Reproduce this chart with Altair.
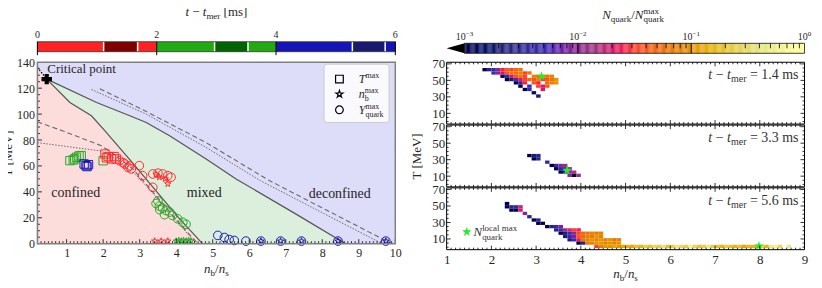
import altair as alt
import numpy as np
import pandas as pd

FONT = "Liberation Serif"
INK = "#262626"

# ---------------- left colour bar: t - t_mer [ms]
SEG_START = [0.0, 1.11, 1.68, 2.0, 2.97, 3.53, 4.0, 5.28, 5.83]
SEG_END = [1.11, 1.68, 2.0, 2.97, 3.53, 4.0, 5.28, 5.83, 6.0]
SEG_COLOR = ["#ff2222", "#800000", "#ff2222", "#22aa11", "#006400", "#22aa11",
             "#1414b8", "#191970", "#1414b8"]
SNAP_TIMES = [1.11, 1.68, 2.97, 3.53, 5.28, 5.83]
TIME_TICKS = [0, 2, 4, 6]

# ---------------- phase diagram boundaries (n_b/n_s, T [MeV])
CRIT_N, CRIT_T = 0.455, 127
CROSS_N = [0.2, 0.455]
CROSS_T = [136, 127]
UPPER_N = [0.455, 1.82, 2.73, 3.18, 3.82, 4.82, 5.64, 7.27, 8.64]
UPPER_T = [127, 109, 98.7, 93.5, 83.3, 65.4, 50, 23, 0]
LOWER_N = [0.455, 1.09, 1.68, 2.05, 2.8, 3.5, 4.1, 4.72]
LOWER_T = [127, 109, 98.7, 87, 62.5, 39, 19, 0]
UP_DASH_N = [1.91, 3.18, 4.82, 6.55, 9.9]
UP_DASH_T = [119.5, 102, 78, 48.7, 0]
UP_DOT_N = [1.68, 3.18, 4.82, 6.3, 9.64]
UP_DOT_T = [119, 100, 74.3, 48.7, 0]
LO_DASH_N = [0.2, 0.9, 1.95, 2.3, 2.8, 3.36, 3.9, 4.3, 4.6]
LO_DASH_T = [94, 87, 75.6, 69, 58, 40, 22, 9, 0]
LO_DOT_N = [0.2, 1.0, 1.95, 2.3, 2.9, 3.36, 3.9, 4.3, 4.56]
LO_DOT_T = [78, 75, 71.5, 66, 53, 39, 21, 8, 0]

# ---------------- markers (colour code: r = 0-2 ms, g = 2-4 ms, b = 4-6 ms)
SQ_N = [1.09, 1.18, 1.27, 1.34, 1.40, 1.22, 2.0, 1.48, 1.53, 1.56, 1.60,
        2.05, 2.09, 2.14, 2.23, 2.30, 2.36]
SQ_T = [64.1, 64.6, 66.7, 67.7, 68, 65.5, 64, 61.5, 60.2, 59.5, 61,
        69.2, 66.2, 67.2, 65.4, 67.2, 65.4]
SQ_C = ["g"] * 7 + ["b"] * 4 + ["r"] * 6
CI_N = [2.45, 2.55, 2.59, 2.68, 2.72, 2.77, 2.99, 3.08, 3.36, 3.36, 3.5, 3.63, 3.77, 3.86,
        3.45, 3.5, 3.54, 3.55, 3.63, 3.68, 3.72, 3.82, 3.90, 4.04, 4.18, 4.27,
        5.14, 5.32, 5.45, 5.59, 5.91, 6.32, 6.86, 7.43, 8.43, 9.74]
CI_T = [64, 62.5, 61.5, 58.9, 60, 57.7, 60.2, 52.5, 43.5, 53.8, 54.4, 53.8, 52.5, 51.3,
        31, 33, 29, 26.3, 27.5, 22.4, 25.6, 24.4, 21.8, 19.2, 16.5, 15,
        6.4, 4.8, 3.2, 2.5, 2, 2, 2, 2, 2, 2]
CI_C = ["r"] * 14 + ["g"] * 12 + ["b"] * 10
ST_N = [3.77, 3.54, 3.45, 3.7, 3.41, 3.59, 3.77, 4.0, 4.07, 4.14, 4.2, 4.27, 4.34, 4.4,
        6.32, 6.86, 7.43, 8.43, 9.74]
ST_T = [46.2, 51.3, 53.5, 50, 2, 2, 2, 2, 2.5, 2, 2.5, 2, 2.5, 2, 2, 2, 2, 2, 2]
ST_C = ["r"] * 7 + ["g"] * 7 + ["b"] * 5
MCOL = {"r": "#ff2a2a", "g": "#22aa22", "b": "#1a1ab4"}

# ---------------- quark fraction maps: rows of cells (T centre, first n, log10 values)
P1_T = [63, 59, 55, 51, 47, 43, 39, 35, 31]
P1_N0 = [1.8, 2.0, 2.2, 2.3, 2.5, 2.6, 2.7, 2.9, 3.0]
P1_V = [[-3.0, -2.6, -2.4, -2.0, -1.6, -1.4, -1.5, -1.3, -1.2],
        [-2.3, -2.0, -1.7, -1.4, -1.2, -1.3, -1.1, -1.5, -1.2],
        [-3.0, -2.4, -1.7, -1.4, -1.2, -1.5, None, -1.1, -1.3, -1.0, -1.2, -1.1],
        [-3.0, -2.7, -2.2, -1.7, -1.5, -1.3, -1.4, -1.1, -1.5, -1.4, -1.2, -1.0],
        [-3.0, -2.5, -1.6, None, -1.4, -1.6, None, -1.3, -1.1, -1.0],
        [-3.0, None, -2.3, None, -1.5, -1.7, -1.4],
        [-3.0, -2.3, None, None, -1.7], [-2.8], [-2.7]]
P2_T = [35, 31, 27, 23, 19, 15, 11]
P2_N0 = [2.8, 2.9, 3.2, 3.3, 3.4, 3.5, 3.7]
P2_V = [[-3.0, -2.7, -2.6], [-3.0, -2.6], [-2.4], [-3.0, -2.4, -2.0, -1.9],
        [-3.0, -2.5, -2.3, -1.9], [-3.0, -2.5, -2.0, -1.8], [-2.0, -3.0, -1.9]]
P3_T = [53, 49, 45, 41, 37, 33, 29, 25, 21, 17, 13, 9, 5, 1]
P3_N0 = [2.3, 2.3, 2.4, 2.7, 2.8, 2.9, 3.0, 3.2, 3.4, 3.5, 3.6, 3.7, 3.9, 4.3]
P3_V = [[-3.0], [-3.0, -2.5, -2.4, -1.8], [-3.0, -3.0, -1.7], [-2.0], [-2.5], [-3.0, -2.5],
        [-3.0, -3.0], [-3.0, -2.6, -2.4, -2.1], [-2.6, -2.3, -1.9, -1.6, -1.5, -1.6],
        [-3.0, -2.7, -2.3, -2.0, -1.5, -1.3, -1.2, -1.1, -1.2, -1.1],
        [-2.7, -2.4, -2.1, -1.4, -1.3, -1.1, -1.2, -1.0, -1.1],
        [-2.7, -2.3, -1.6, -1.2, -1.1, -1.0, -1.1, -1.0, -1.1, -1.0, -1.2, -1.1],
        [-3.0, -2.6, -1.2, -1.1, -1.0, -1.0, -1.1, -1.0, -1.1, -1.0],
        [-1.5, -1.1, -1.0, -1.0, -0.9, -1.0, -0.9, -0.8, -0.9, -0.7, -0.8, -0.6, -0.7, -0.5,
         -0.6, -0.4, -0.7, -0.6, -0.3, -0.5, -0.6, -0.2, -0.5, -0.7, -0.6, -0.3, -0.6, -0.7,
         -0.8, -0.6, -0.7, -0.8, -0.7, -0.9, -0.8, -0.8, -0.9, -0.6, -0.8, -0.3, -0.2, -0.5,
         None, -0.3, None]]
STAR_N = [3.12, 3.69, 7.98]
STAR_T = [55, 17, 1.5]
PANEL_TIME = ["1.4", "3.3", "5.6"]

CMR = ["#000000", "#262680", "#4026bf", "#993380", "#ff4026", "#e68000",
       "#e6bf1a", "#e6e680", "#ffffff"]
CMR_DOM = [-3.0, -2.625, -2.25, -1.875, -1.5, -1.125, -0.75, -0.375, 0.0]
cmr_scale = alt.Scale(domain=CMR_DOM, range=CMR, clamp=True)

STAR = ("M 0 -1 L 0.2245 -0.309 L 0.9511 -0.309 L 0.3633 0.118 L 0.5878 0.809 "
        "L 0 0.382 L -0.5878 0.809 L -0.3633 0.118 L -0.9511 -0.309 L -0.2245 -0.309 Z")
TRI_LEFT = "M -1 0 L 1 -0.56 L 1 0.56 Z"

# ---------------- text helpers (Times-compatible metrics)
RM = {" ": 250, "[": 333, "]": 333, "/": 278, ".": 250, "=": 564, "−": 564,
      "a": 444, "b": 500, "c": 444, "d": 500, "e": 444, "f": 333, "i": 278, "k": 500,
      "l": 278, "m": 778, "n": 500, "o": 500, "p": 500, "q": 500, "r": 333, "s": 389,
      "t": 278, "u": 500, "x": 500, "M": 889, "V": 722, "C": 667}
IT = {" ": 250, "a": 500, "c": 444, "e": 444, "i": 278, "k": 444, "l": 278,
      "m": 722, "n": 500, "o": 500, "r": 389, "s": 389, "t": 278, "N": 667,
      "T": 556, "Y": 556}


def tw(s, size, italic):
    tab = IT if italic else RM
    return sum(tab.get(c, 500) for c in s) * size / 1000.0


W, HL, HR, GAP = 359, 182, 62, 1
HRT = 3 * HR + 2 * GAP
xsL = alt.Scale(domain=[0.2, 10], nice=False, zero=False)
ysL = alt.Scale(domain=[0, 140], nice=False, zero=False)
xaxL = alt.Axis(values=list(range(1, 11)), ticks=False, domain=False, grid=False,
                labelFont=FONT, labelFontSize=12, labelColor=INK, labelPadding=4,
                labelFlush=False, labelOverlap=False, title=None)
yaxL = alt.Axis(values=list(range(0, 141, 20)), ticks=False, domain=False, grid=False,
                labelFont=FONT, labelFontSize=12, labelColor=INK, labelPadding=3,
                labelOverlap=False, title="T [MeV]", titleFont=FONT, titleFontSize=13,
                titleFontWeight="normal", titleColor=INK, titlePadding=2)
UNIT = 75.0 / HR
OFF = [2 * (75 + GAP * UNIT), 75 + GAP * UNIT, 0.0]
xsR = alt.Scale(domain=[1, 9], nice=False, zero=False)
ysR = alt.Scale(domain=[-3, 72 + OFF[0]], nice=False, zero=False)
yvals = [v + OFF[k] for k in range(3) for v in (10, 30, 50, 70)]
lab_expr = ("datum.value > {a} ? format(datum.value - {o1}, '.0f') : "
            "datum.value > {b} ? format(datum.value - {o2}, '.0f') : format(datum.value, '.0f')"
            ).format(a=OFF[0] - 5, o1=OFF[0], b=OFF[1] - 5, o2=OFF[1])
xaxR = alt.Axis(values=list(range(1, 10)), ticks=False, domain=False, grid=False,
                labelFont=FONT, labelFontSize=13, labelColor=INK, labelPadding=4,
                labelFlush=False, labelOverlap=False, title=None)
yaxR = alt.Axis(values=yvals, labelExpr=lab_expr, ticks=False, domain=False, grid=False,
                labelFont=FONT, labelFontSize=13, labelColor=INK, labelPadding=2,
                labelOverlap=False, title="T [MeV]", titleFont=FONT, titleFontSize=13,
                titleFontWeight="normal", titleColor=INK, titlePadding=8)
AX = {"L": (xsL, ysL, xaxL, yaxL), "R": (xsR, ysR, xaxR, yaxR)}


def XE(side, f):
    return alt.X(f + ":Q", scale=AX[side][0], axis=AX[side][2])


def YE(side, f):
    return alt.Y(f + ":Q", scale=AX[side][1], axis=AX[side][3])


def rich(pieces, x, y, side=None, align="left", dy0=0.0, color=INK):
    isx = isinstance(x, (int, float))
    isy = isinstance(y, (int, float))
    df = pd.DataFrame({"px": [x if isx else 0], "py": [y if isy else 0]})
    X = XE(side, "px") if isx else x
    Y = YE(side, "py") if isy else y
    offs, cur = [], 0.0
    for text, size, it, dy, adv in pieces:
        offs.append(cur)
        if adv:
            cur += tw(text, size, it)
    shift = {"left": 0.0, "center": -cur / 2, "right": -cur}[align]
    out = []
    for (text, size, it, dy, adv), o in zip(pieces, offs):
        lead = len(text) - len(text.lstrip())
        out.append(alt.Chart(df).mark_text(
            text=text.strip(), font=FONT, fontSize=size,
            fontStyle="italic" if it else "normal", align="left", baseline="alphabetic",
            dx=o + tw(" " * lead, size, it) + shift, dy=dy + dy0, color=color).encode(x=X, y=Y))
    return out


def rule_x(side, vals, y0, y1):
    return alt.Chart(pd.DataFrame({"v": vals})).mark_rule(color="black", strokeWidth=0.8).encode(
        x=XE(side, "v"), y=alt.value(y0), y2=alt.value(y1))


def rule_y(side, vals, x0, x1):
    return alt.Chart(pd.DataFrame({"v": vals})).mark_rule(color="black", strokeWidth=0.8).encode(
        y=YE(side, "v"), x=alt.value(x0), x2=alt.value(x1))


def box(x0, x1, y0, y1, **kw):
    return alt.Chart(pd.DataFrame({"k": [0]})).mark_rect(**kw).encode(
        x=alt.value(x0), x2=alt.value(x1), y=alt.value(y0), y2=alt.value(y1))


def ln(nn, tt, **kw):
    return alt.Chart(pd.DataFrame({"n": nn, "T": tt})).mark_line(**kw).encode(
        x=XE("L", "n"), y=YE("L", "T"))


def markers(nn, tt, cc, shape, size):
    df = pd.DataFrame({"n": nn, "T": tt, "c": [MCOL[c] for c in cc]})
    return alt.Chart(df).mark_point(shape=shape, filled=False, size=size, strokeWidth=1,
                                    opacity=1).encode(
        x=XE("L", "n"), y=YE("L", "T"), color=alt.Color("c:N", scale=None))


# ======================================================= LEFT: phase diagram
up_area = pd.DataFrame({"n": CROSS_N[:1] + UPPER_N, "T": CROSS_T[:1] + UPPER_T})
lo_area = pd.DataFrame({"n": CROSS_N[:1] + LOWER_N, "T": CROSS_T[:1] + LOWER_T})
L = [box(0, W, 0, HL, fill="#dddcf9"),
     alt.Chart(up_area).mark_area(color="#dcefdc").encode(
         x=XE("L", "n"), y=YE("L", "T"), y2=alt.value(HL)),
     alt.Chart(lo_area).mark_area(color="#fddcdc").encode(
         x=XE("L", "n"), y=YE("L", "T"), y2=alt.value(HL)),
     ln(UP_DASH_N, UP_DASH_T, color="#6a6a6a", strokeWidth=1.1, strokeDash=[5, 3]),
     ln(UP_DOT_N, UP_DOT_T, color="#6a6a6a", strokeWidth=1.0, strokeDash=[1.5, 1.5]),
     ln(LO_DASH_N, LO_DASH_T, color="#6a6a6a", strokeWidth=1.1, strokeDash=[5, 3]),
     ln(LO_DOT_N, LO_DOT_T, color="#6a6a6a", strokeWidth=1.0, strokeDash=[1.5, 1.5]),
     ln(UPPER_N, UPPER_T, color="#555555", strokeWidth=1.2),
     ln(LOWER_N, LOWER_T, color="#555555", strokeWidth=1.2),
     ln(CROSS_N, CROSS_T, color="black", strokeWidth=1.3, strokeDash=[1.5, 1.5]),
     markers(SQ_N, SQ_T, SQ_C, "square", 70),
     markers(CI_N, CI_T, CI_C, "circle", 75),
     markers(ST_N, ST_T, ST_C, STAR, 45),
     alt.Chart(pd.DataFrame({"n": [CRIT_N], "T": [CRIT_T]})).mark_point(
         shape="cross", filled=True, color="black", size=110, opacity=1).encode(
         x=XE("L", "n"), y=YE("L", "T")),
     alt.Chart(pd.DataFrame({"n": [8.05], "n2": [9.83], "T": [93.5], "T2": [138.5]})).mark_rect(
         fill="white", fillOpacity=0.85, stroke="#cccccc", strokeWidth=1, cornerRadius=3).encode(
         x=XE("L", "n"), x2="n2:Q", y=YE("L", "T"), y2="T2:Q")]
for shape, tv, sz in (("square", 127, 60), (STAR, 115.4, 55), ("circle", 103.3, 60)):
    L.append(alt.Chart(pd.DataFrame({"n": [8.47], "T": [tv]})).mark_point(
        shape=shape, filled=False, color="black", size=sz, strokeWidth=1.2, opacity=1).encode(
        x=XE("L", "n"), y=YE("L", "T")))
L += rich([("T", 12, True, 0, True), ("max", 8, False, -5, True)], 9.0, 127.0, "L", dy0=4)
L += rich([("n", 12, True, 0, True), ("b", 8, False, 3, False), ("max", 8, False, -5, True)],
          9.0, 115.4, "L", dy0=4)
L += rich([("Y", 12, True, 0, True), ("max", 8, False, -5, False), ("quark", 8, False, 3, True)],
          9.0, 103.3, "L", dy0=4)
L += rich([("Critical point", 13, False, 0, True)], 0.47, 131.7, "L")
L += rich([("confined", 14, False, 0, True)], 1.25, 39.5, "L", align="center", dy0=4.5)
L += rich([("mixed", 14, False, 0, True)], 4.77, 39.5, "L", align="center", dy0=4.5)
L += rich([("deconfined", 14, False, 0, True)], 8.48, 39.0, "L", align="center", dy0=4.5)
L += [rule_x("L", list(range(1, 11)), HL, HL - 4.5),
      rule_x("L", [round(v / 10, 1) for v in range(3, 100) if v % 10], HL, HL - 2.5),
      rule_y("L", list(range(20, 140, 20)), 0, 4.5),
      rule_y("L", [v for v in range(5, 140, 5) if v % 20], 0, 2.5)]
L.append(box(0, W, 0, HL, fillOpacity=0, stroke="#808080", strokeWidth=1.5))
L += rich([("n", 13, True, 0, True), ("b", 9, False, 3, True), ("/", 13, False, 0, True),
           ("n", 13, True, 0, True), ("s", 9, False, 3, True)],
          alt.value(W / 2), alt.value(HL + 29), align="center")
# colour bar for t - t_mer (time mapped onto the n axis range)
CT, CB = -20.6, -10.6
T2N = "0.2 + {} * 9.8 / 6"
segdf = pd.DataFrame({"a": SEG_START, "b": SEG_END, "c": SEG_COLOR})
L.append(alt.Chart(segdf).transform_calculate(
    na=T2N.format("datum.a"), nb=T2N.format("datum.b")).mark_rect().encode(
    x=XE("L", "na"), x2="nb:Q", y=alt.value(CT), y2=alt.value(CB),
    color=alt.Color("c:N", scale=None)))
L.append(alt.Chart(pd.DataFrame({"t": SNAP_TIMES})).transform_calculate(
    n=T2N.format("datum.t")).mark_rule(color="white", strokeWidth=1.5).encode(
    x=XE("L", "n"), y=alt.value(CT), y2=alt.value(CB)))
L.append(box(0, W, CT, CB, fillOpacity=0, stroke="#333333", strokeWidth=0.8))
L.append(alt.Chart(pd.DataFrame({"t": TIME_TICKS})).transform_calculate(
    n=T2N.format("datum.t")).mark_rule(color="black", strokeWidth=1).encode(
    x=XE("L", "n"), y=alt.value(CT), y2=alt.value(CB + 3.5)))
for t in TIME_TICKS:
    L += rich([(str(t), 10, False, 0, True)], 0.2 + t * 9.8 / 6, alt.value(CT - 4), "L",
              align="center")
L += rich([("t", 13, True, 0, True), (" − ", 13, False, 0, True),
           ("t", 13, True, 0, True), ("mer", 9, False, 3, True),
           (" [ms]", 13, False, 0, True)],
          alt.value(W / 2), alt.value(CT - 25.5), align="center")
left = alt.layer(*L).properties(width=W, height=HL)


# ======================================================= RIGHT: three stacked panels
def cells_df():
    recs = []
    for k, (rt, rn, rv) in enumerate([(P1_T, P1_N0, P1_V), (P2_T, P2_N0, P2_V), (P3_T, P3_N0, P3_V)]):
        for T, n0, vals in zip(rt, rn, rv):
            for j, v in enumerate(vals):
                if v is None:
                    continue
                a = round(n0 + 0.1 * j, 2)
                recs.append({"n": a, "n2": round(a + 0.1, 2),
                             "t": T - 2 + OFF[k], "t2": T + 2 + OFF[k], "v": v})
    return pd.DataFrame(recs)


R = []
for k in range(3):
    R.append(box(0, W, k * (HR + GAP), k * (HR + GAP) + HR, fill="white"))
R.append(alt.Chart(cells_df()).mark_rect().encode(
    x=XE("R", "n"), x2="n2:Q", y=YE("R", "t"), y2="t2:Q",
    color=alt.Color("v:Q", scale=cmr_scale, legend=None)))
R.append(alt.Chart(pd.DataFrame({"n": STAR_N + [1.45],
                                 "T": [STAR_T[k] + OFF[k] for k in range(3)] + [18.6]})).mark_point(
    shape=STAR, filled=True, color="#22ee22", size=100, opacity=1, strokeWidth=0).encode(
    x=XE("R", "n"), y=YE("R", "T")))
xmajR = list(range(2, 9))
xminR = [round(v / 10, 1) for v in range(11, 90) if v % 10]
for k in range(3):
    top = k * (HR + GAP)
    bot = top + HR
    R += [rule_x("R", xmajR, bot, bot - 4), rule_x("R", xminR, bot, bot - 2),
          rule_x("R", xmajR, top, top + 4), rule_x("R", xminR, top, top + 2)]
    ymaj = [v + OFF[k] for v in (10, 30, 50, 70)]
    ymin = [v + OFF[k] for v in (0, 5, 15, 20, 25, 35, 40, 45, 55, 60, 65)]
    R += [rule_y("R", ymaj, 0, 4), rule_y("R", ymin, 0, 2),
          rule_y("R", ymaj, W, W - 4), rule_y("R", ymin, W, W - 2)]
    R.append(box(0, W, top, bot, fillOpacity=0, stroke="black", strokeWidth=1))
    R += rich([("t", 14, True, 0, True), (" − ", 14, False, 0, True), ("t", 14, True, 0, True),
               ("mer", 10, False, 3, True), (" = " + PANEL_TIME[k] + " ", 14, False, 0, True),
               ("ms", 14, False, 0, True)],
              alt.value(W - 6), alt.value(top + 17), align="right", color="#333333")
R += rich([("N", 13, True, 0, True), ("quark", 9, False, 3.5, False),
           ("local max", 9, False, -5.5, True)],
          1.6, 18.6, "R", dy0=4.5, color="#333333")
R += rich([("n", 13, True, 0, True), ("b", 9, False, 3, True), ("/", 13, False, 0, True),
           ("n", 13, True, 0, True), ("s", 9, False, 3, True)],
          alt.value(W / 2), alt.value(HRT + 28), align="center")
# colour bar for N_quark / N_quark^max (log10 mapped onto the n axis range)
QT, QB = -19.0, -9.0
V2N = "1 + ({} + 3.158) * 8 / 3.158"
grad = pd.DataFrame({"v": [round(-3.0 + 0.01 * i, 3) for i in range(300)]})
R.append(alt.Chart(grad).transform_calculate(
    na=V2N.format("datum.v"), nb=V2N.format("(datum.v + 0.0102)")).mark_rect().encode(
    x=XE("R", "na"), x2="nb:Q", y=alt.value(QT), y2=alt.value(QB),
    color=alt.Color("v:Q", scale=cmr_scale, legend=None)))
R.append(alt.Chart(pd.DataFrame({"v": [-3.079]})).transform_calculate(
    n=V2N.format("datum.v")).mark_point(
    shape=TRI_LEFT, filled=True, color="black", size=324, opacity=1, strokeWidth=0).encode(
    x=XE("R", "n"), y=alt.value((QT + QB) / 2)))
R.append(alt.Chart(pd.DataFrame({"a": [-3.0], "b": [0.0]})).transform_calculate(
    na=V2N.format("datum.a"), nb=V2N.format("datum.b")).mark_rect(
    fillOpacity=0, stroke="#111111", strokeWidth=0.8).encode(
    x=XE("R", "na"), x2="nb:Q", y=alt.value(QT), y2=alt.value(QB)))
R.append(alt.Chart(pd.DataFrame({"v": [-2.0, -1.0]})).transform_calculate(
    n=V2N.format("datum.v")).mark_rule(color="black", strokeWidth=1).encode(
    x=XE("R", "n"), y=alt.value(QT), y2=alt.value(QB)))
minor_q = [float(np.log10(m)) + d for d in (-3, -2, -1) for m in range(2, 10)]
R.append(alt.Chart(pd.DataFrame({"v": minor_q})).transform_calculate(
    n=V2N.format("datum.v")).mark_rule(color="black", strokeWidth=0.8).encode(
    x=XE("R", "n"), y=alt.value(QT), y2=alt.value(QT + 5)))
for p, lab in zip([-3, -2, -1, 0], ["−3", "−2", "−1", "0"]):
    R += rich([("10", 10, False, 0, True), (lab, 7, False, -4, True)],
              1 + (p + 3.158) * 8 / 3.158, alt.value(QT - 3), "R", align="center")
R += rich([("N", 13, True, 0, True), ("quark", 9, False, 3, True),
           ("/", 13, False, 0, True), ("N", 13, True, 0, True),
           ("max", 9, False, -5, False), ("quark", 9, False, 3, True)],
          alt.value(187), alt.value(QT - 24.5), align="center")
right = alt.layer(*R).properties(width=W, height=HRT)

chart = alt.hconcat(left, right, spacing=9.5).properties(
    padding={"left": -6.5, "top": -3, "right": 2, "bottom": 0}
).configure_view(strokeWidth=0)

chart.save("out.html", embed_options={"renderer": "svg", "actions": False})
